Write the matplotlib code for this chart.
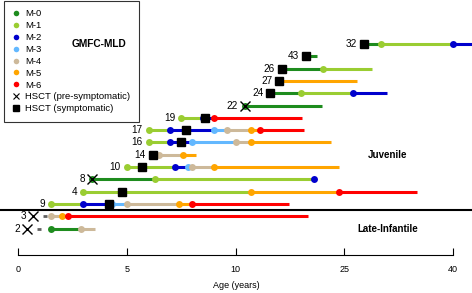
import numpy as np
import matplotlib.pyplot as plt
from matplotlib.lines import Line2D

plt.rcParams['font.family'] = ['Liberation Sans', 'DejaVu Sans']

# patients from top row to bottom row
patient_ids = [32, 43, 26, 27, 24, 22, 19, 17, 16, 14, 10, 8, 4, 9, 3, 2]
stage_ages = [
    [27.7, 30.1, 40.0],
    [19.7],
    [16.4, 22.0],
    [16.0],
    [14.8, 19.0, 26.2],
    [11.3],
    [7.5, 8.5, 9.0],
    [6.0, 7.0, 9.0, 9.6, 12.1, 13.3],
    [6.0, 7.0, 8.0, 10.0, 12.1],
    [6.5, 7.6],
    [5.0, 7.2, 7.8, 8.0, 9.0],
    [3.4, 6.3, 20.8],
    [3.0, 12.1, 24.2],
    [1.5, 3.0, 4.3, 5.0, 7.4, 8.0],
    [1.5, 2.0, 2.3],
    [1.5, 2.9],
]
stage_codes = [
    ['M-0', 'M-1', 'M-2'],
    ['M-0'],
    ['M-0', 'M-1'],
    ['M-5'],
    ['M-0', 'M-1', 'M-2'],
    ['M-0'],
    ['M-1', 'M-2', 'M-6'],
    ['M-1', 'M-2', 'M-3', 'M-4', 'M-5', 'M-6'],
    ['M-1', 'M-2', 'M-3', 'M-4', 'M-5'],
    ['M-4', 'M-5'],
    ['M-1', 'M-2', 'M-3', 'M-4', 'M-5'],
    ['M-0', 'M-1', 'M-2'],
    ['M-1', 'M-5', 'M-6'],
    ['M-1', 'M-2', 'M-3', 'M-4', 'M-5', 'M-6'],
    ['M-4', 'M-5', 'M-6'],
    ['M-0', 'M-4'],
]
end_ages = [43.5, 21.2, 28.8, 26.7, 30.9, 21.9, 19.1, 19.4, 23.1, 8.2, 24.3, 20.8, 35.0, 17.3, 20.0, 3.55]
hsct_ages = [27.7, 19.7, 16.4, 16.0, 14.8, 11.3, 8.6, 7.7, 7.5, 6.2, 5.7, 3.4, 4.8, 4.2, 0.7, 0.43]
hsct_types = ['sym', 'sym', 'sym', 'sym', 'sym', 'pre', 'sym', 'sym', 'sym', 'sym', 'sym', 'pre', 'sym', 'sym', 'pre', 'pre']
# short grey dash after the cross (patients 3 and 2)
dash_ids = [3, 2]
dash_ranges = [(1.13, 1.32), (0.86, 1.07)]

stages = ['M-0', 'M-1', 'M-2', 'M-3', 'M-4', 'M-5', 'M-6']
stage_colors = {'M-0': '#1e8c1e', 'M-1': '#9acd32', 'M-2': '#0000cd', 'M-3': '#63b8ff',
                'M-4': '#cdb99a', 'M-5': '#ffa500', 'M-6': '#ff0000'}
xticks = [0, 5, 10, 25, 40]


# broken age axis: 0-10 stretched, 10-40 compressed
def fwd(x):
    x = np.asarray(x, dtype=float)
    return np.where(x <= 10, x / 5, 2 + (x - 10) / 15)


def inv(u):
    u = np.asarray(u, dtype=float)
    return np.where(u <= 2, u * 5, 10 + (u - 2) * 15)


fig = plt.figure(figsize=(4.72, 2.93), dpi=100)
ax = fig.add_axes([0, 38 / 293, 1, 255 / 293])
ax.set_xscale('function', functions=(fwd, inv))
ax.set_xlim(-0.827, 42.6)
ax.set_ylim(-2.15, 18.58)

n = len(patient_ids)
for k, pid in enumerate(patient_ids):
    y = n - 1 - k
    ages = stage_ages[k] + [end_ages[k]]
    codes = stage_codes[k]
    for j, c in enumerate(codes):
        ax.plot([ages[j], ages[j + 1]], [y, y], color=stage_colors[c], lw=2.2,
                solid_capstyle='butt', zorder=2)
        ax.plot(ages[j], y, 'o', color=stage_colors[c], ms=5, mew=0, zorder=3)
    if pid in dash_ids:
        a0, a1 = dash_ranges[dash_ids.index(pid)]
        ax.plot([a0, a1], [y, y], color='#606060', lw=2, solid_capstyle='butt', zorder=2)
    if hsct_types[k] == 'sym':
        ax.plot(hsct_ages[k], y, 's', color='black', ms=6.3, zorder=4)
    else:
        ax.plot(hsct_ages[k], y, 'x', color='black', ms=6.5, mew=1, zorder=4)
    first = min(hsct_ages[k], stage_ages[k][0])
    if first == hsct_ages[k]:
        off = -5
    else:
        off = -4.2
    ax.annotate(str(pid), (first, y), xytext=(off, 0), textcoords='offset points',
                ha='right', va='center', fontsize=7.2)

ax.axhline(1.5, color='black', lw=1.5, zorder=1)

ax.text(31, 6.0, 'Juvenile', fontsize=7, fontweight='bold', ha='center', va='center')
ax.text(31, 0.0, 'Late-Infantile', fontsize=7, fontweight='bold', ha='center', va='center')

for s in ['top', 'left', 'right']:
    ax.spines[s].set_visible(False)
ax.spines['bottom'].set_bounds(0, 40)
ax.spines['bottom'].set_linewidth(0.8)
ax.set_yticks([])
ax.set_xticks(xticks)
ax.set_xticklabels([str(t) for t in xticks])
ax.tick_params(axis='x', direction='in', length=5, width=0.8, pad=7, labelsize=6.5)
ax.set_xlabel('Age (years)', fontsize=6.5, labelpad=5)

handles = [Line2D([], [], marker='o', color=stage_colors[s], ls='none', ms=4, mew=0) for s in stages]
handles.append(Line2D([], [], marker='x', color='black', ls='none', ms=4, mew=0.8))
handles.append(Line2D([], [], marker='s', color='black', ls='none', ms=4))
labels = stages + ['HSCT (pre-symptomatic)', 'HSCT (symptomatic)']
leg = ax.legend(handles, labels, loc='upper left', bbox_to_anchor=(4 / 472, 292 / 293),
                bbox_transform=fig.transFigure, fontsize=6.8, frameon=True, fancybox=False,
                edgecolor='black', borderpad=0.9, labelspacing=0.3, handlelength=0.8,
                handletextpad=0.55, borderaxespad=0)
leg.get_frame().set_linewidth(0.8)
fig.text(99 / 472, 1 - 44 / 293, 'GMFC-MLD', fontsize=7.3, fontweight='bold', ha='center', va='center')

fig.savefig('out.png', dpi=100)
